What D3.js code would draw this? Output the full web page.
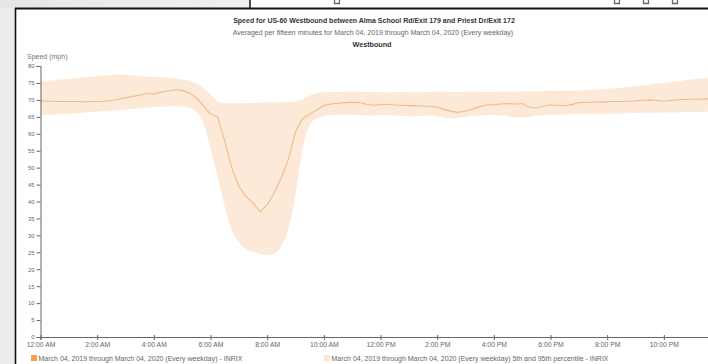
<!DOCTYPE html>
<html>
<head>
<meta charset="utf-8">
<script src="https://cdn.jsdelivr.net/npm/d3@7"></script>
<style>
  html, body { margin: 0; padding: 0; background: #e4e4e4; }
  svg { display: block; font-family: "Liberation Sans", Arial, sans-serif; }
</style>
</head>
<body>
<svg id="chart" width="708" height="364"></svg>
<script>
// ---- Data (15-minute intervals, hours 0 .. 23.75) ----
const hours = d3.range(0, 96).map(i => i / 4);

const meanSpeed = [
  69.7, 69.6, 69.6, 69.5, 69.5, 69.5, 69.4, 69.5, 69.5, 69.6, 69.8, 70.2,
  70.6, 71.0, 71.4, 71.9, 71.7, 72.3, 72.6, 73.0, 72.8, 72.0, 70.6, 68.2,
  65.8, 65.0, 58.0, 50.0, 44.5, 41.5, 39.5, 37.0, 39.0, 42.5, 47.0, 52.5,
  60.5, 64.5, 65.8, 67.0, 68.3,
  68.8, 69.0, 69.2, 69.3, 69.2, 68.7, 68.4, 68.6, 68.7, 68.5, 68.4, 68.3,
  68.3, 68.2, 68.1, 67.9, 67.2, 66.6, 66.3, 66.7, 67.3, 68.0, 68.5, 68.6,
  68.8, 68.9, 68.8, 68.9, 67.8, 67.6, 68.2, 68.5, 68.4, 68.2, 68.6, 69.2,
  69.3, 69.3, 69.4, 69.4,
  69.5, 69.5, 69.6, 69.7, 69.9, 70.0, 69.8, 69.6, 69.8, 70.0, 70.1, 70.2,
  70.2, 70.3, 70.3
];

const pct95 = [
  75.5, 75.6, 75.8, 76.0, 76.2, 76.4, 76.6, 76.8, 77.0, 77.2, 77.4, 77.5,
  77.4, 77.2, 77.0, 76.9, 76.8, 76.7, 76.5, 76.3, 76.0, 75.6, 74.8, 73.5,
  71.5, 69.5, 69.0, 69.0, 69.0, 69.1, 69.1, 69.2, 69.2, 69.2, 69.3, 69.4,
  69.5, 70.2, 71.3, 72.0, 72.3,
  72.4, 72.3, 72.4, 72.5, 72.4, 72.3, 72.4, 72.3, 72.2, 72.3, 72.4, 72.3,
  72.2, 72.3, 72.4, 72.5, 72.4, 72.3, 72.3, 72.4, 72.5, 72.4, 72.3, 72.4,
  72.5, 72.5, 72.4, 72.5, 72.6, 72.5, 72.6, 72.7, 72.6, 72.7, 72.8, 72.8,
  72.9, 73.0, 73.1, 73.2,
  73.4, 73.6, 73.8, 74.0, 74.3, 74.5, 74.8, 75.0, 75.3, 75.5, 75.8, 76.0,
  76.2, 76.4, 76.6
];

const pct5 = [
  65.5, 65.6, 65.7, 65.8, 65.9, 66.0, 66.2, 66.4, 66.5, 66.7, 66.8, 67.0,
  67.1, 67.3, 67.5, 67.7, 67.9, 68.0, 68.1, 68.1, 68.0, 67.7, 66.5, 63.0,
  55.5, 47.5, 38.5, 31.5, 28.0, 26.0, 25.2, 24.5, 24.2, 24.6, 26.8, 32.0,
  42.0, 55.5, 62.5, 64.5, 65.2,
  65.5, 65.6, 65.7, 65.6, 65.5, 65.4, 65.4, 65.5, 65.5, 65.4, 65.3, 65.2,
  65.2, 65.3, 65.4, 65.2, 64.8, 64.5, 64.7, 65.0, 65.3, 65.4, 65.5, 65.5,
  65.4, 65.2, 64.9, 64.8, 65.0, 65.3, 65.5, 65.6, 65.7, 65.7, 65.8, 65.8,
  65.8, 65.9, 65.9, 66.0,
  66.0, 66.0, 66.1, 66.1, 66.2, 66.2, 66.2, 66.3, 66.3, 66.3, 66.4, 66.4,
  66.4, 66.5, 66.5
];

const xTickHours = [0, 2, 4, 6, 8, 10, 12, 14, 16, 18, 20, 22];
const xTickLabels = ["12:00 AM", "2:00 AM", "4:00 AM", "6:00 AM", "8:00 AM", "10:00 AM",
                     "12:00 PM", "2:00 PM", "4:00 PM", "6:00 PM", "8:00 PM", "10:00 PM"];
const yTicks = d3.range(0, 81, 5);

const titleText = "Speed for US-60 Westbound between Alma School Rd/Exit 179 and Priest Dr/Exit 172";
const subtitleText = "Averaged per fifteen minutes for March 04, 2019 through March 04, 2020 (Every weekday)";
const directionText = "Westbound";
const yAxisTitle = "Speed (mph)";
const legendLabels = [
  "March 04, 2019 through March 04, 2020 (Every weekday) - INRIX",
  "March 04, 2019 through March 04, 2020 (Every weekday) 5th and 95th percentile - INRIX"
];

// ---- Drawing ----
const svg = d3.select("#chart");
const defs = svg.append("defs");

const gL = defs.append("linearGradient").attr("id", "gl").attr("x1", 0).attr("x2", 1).attr("y1", 0).attr("y2", 0);
gL.append("stop").attr("offset", "0%").attr("stop-color", "#ececec");
gL.append("stop").attr("offset", "100%").attr("stop-color", "#cdcdcd");
const gT = defs.append("linearGradient").attr("id", "gt").attr("x1", 0).attr("x2", 1).attr("y1", 0).attr("y2", 0);
gT.append("stop").attr("offset", "0%").attr("stop-color", "#e6e6e6");
gT.append("stop").attr("offset", "100%").attr("stop-color", "#f0f0f0");

// window background
svg.append("rect").attr("x", 0).attr("y", 0).attr("width", 708).attr("height", 364).attr("fill", "url(#gl)");
svg.append("rect").attr("x", 0).attr("y", 0).attr("width", 250).attr("height", 8).attr("fill", "url(#gt)");
svg.append("rect").attr("x", 250).attr("y", 0).attr("width", 458).attr("height", 8).attr("fill", "#ffffff");
svg.append("line").attr("x1", 250).attr("x2", 250).attr("y1", 0).attr("y2", 8).attr("stroke", "#111").attr("stroke-width", 1.5);
// tiny toolbar icons of the window behind
[337, 617, 646, 675].forEach(cx => {
  svg.append("path")
    .attr("d", `M${cx - 2.5},0 L${cx - 2.5},3.5 L${cx + 2.5},3.5 L${cx + 2.5},0`)
    .attr("fill", "none").attr("stroke", "#666").attr("stroke-width", 1.3);
});

// main panel
svg.append("rect").attr("x", 16).attr("y", 9).attr("width", 692).attr("height", 355).attr("fill", "#ffffff");
svg.append("line").attr("x1", 15).attr("x2", 708).attr("y1", 8.5).attr("y2", 8.5).attr("stroke", "#111").attr("stroke-width", 2);
svg.append("line").attr("x1", 15.5).attr("x2", 15.5).attr("y1", 8).attr("y2", 364).attr("stroke", "#111").attr("stroke-width", 1.6);

const x = d3.scaleLinear().domain([0, 24]).range([40.5, 720.5]);
const y = d3.scaleLinear().domain([0, 80]).range([337, 66]);

const plot = svg.append("g");
const clip = defs.append("clipPath").attr("id", "plotclip");
clip.append("rect").attr("x", 16).attr("y", 9).attr("width", 692).attr("height", 355);

const data = hours.map((h, i) => ({ h, m: meanSpeed[i], lo: pct5[i], hi: pct95[i] }));

plot.append("path")
  .datum(data)
  .attr("clip-path", "url(#plotclip)")
  .attr("fill", "#fde9d7")
  .attr("d", d3.area().x(d => x(d.h)).y0(d => y(d.lo)).y1(d => y(d.hi)).curve(d3.curveMonotoneX));

plot.append("path")
  .datum(data)
  .attr("clip-path", "url(#plotclip)")
  .attr("fill", "none")
  .attr("stroke", "#efbb8a")
  .attr("stroke-width", 1.1)
  .attr("d", d3.line().x(d => x(d.h)).y(d => y(d.m)).curve(d3.curveLinear));

// Y axis
const yAxis = svg.append("g")
  .attr("transform", "translate(40.5,0)")
  .call(d3.axisLeft(y).tickValues(yTicks).tickSize(4).tickPadding(2).tickFormat(d3.format("d")));
yAxis.select(".domain").attr("stroke", "#666");
yAxis.selectAll(".tick line").attr("stroke", "#666");
yAxis.selectAll(".tick text").attr("fill", "#666").style("font-size", "5.8px");

// X axis
const xAxis = svg.append("g")
  .attr("transform", "translate(0,337)")
  .call(d3.axisBottom(x).tickValues(xTickHours).tickSize(3).tickPadding(2)
    .tickFormat((d, i) => xTickLabels[i]));
xAxis.select(".domain").attr("stroke", "#666");
xAxis.selectAll(".tick line").attr("stroke", "#666").attr("y1", -2);
xAxis.selectAll(".tick text").attr("fill", "#666").style("font-size", "6.8px");

// Axis title
svg.append("text").attr("x", 27).attr("y", 59).attr("fill", "#777")
  .style("font-size", "7px").text(yAxisTitle);

// Titles
svg.append("text").attr("x", 374).attr("y", 23).attr("text-anchor", "middle")
  .attr("fill", "#333").style("font-size", "7px").style("font-weight", "bold").text(titleText);
svg.append("text").attr("x", 373).attr("y", 35).attr("text-anchor", "middle")
  .attr("fill", "#666").style("font-size", "7px").text(subtitleText);
svg.append("text").attr("x", 372).attr("y", 47).attr("text-anchor", "middle")
  .attr("fill", "#333").style("font-size", "7.2px").style("font-weight", "bold").text(directionText);

// Legend
const legendX = [31, 324];
const legendColors = ["#f5a04c", "#fde6d3"];
legendLabels.forEach((lab, i) => {
  svg.append("rect").attr("x", legendX[i]).attr("y", 355).attr("width", 6).attr("height", 6)
    .attr("fill", legendColors[i]);
  svg.append("text").attr("x", legendX[i] + 7.5).attr("y", 361).attr("fill", "#666")
    .style("font-size", "7px").text(lab);
});
</script>
</body>
</html>
